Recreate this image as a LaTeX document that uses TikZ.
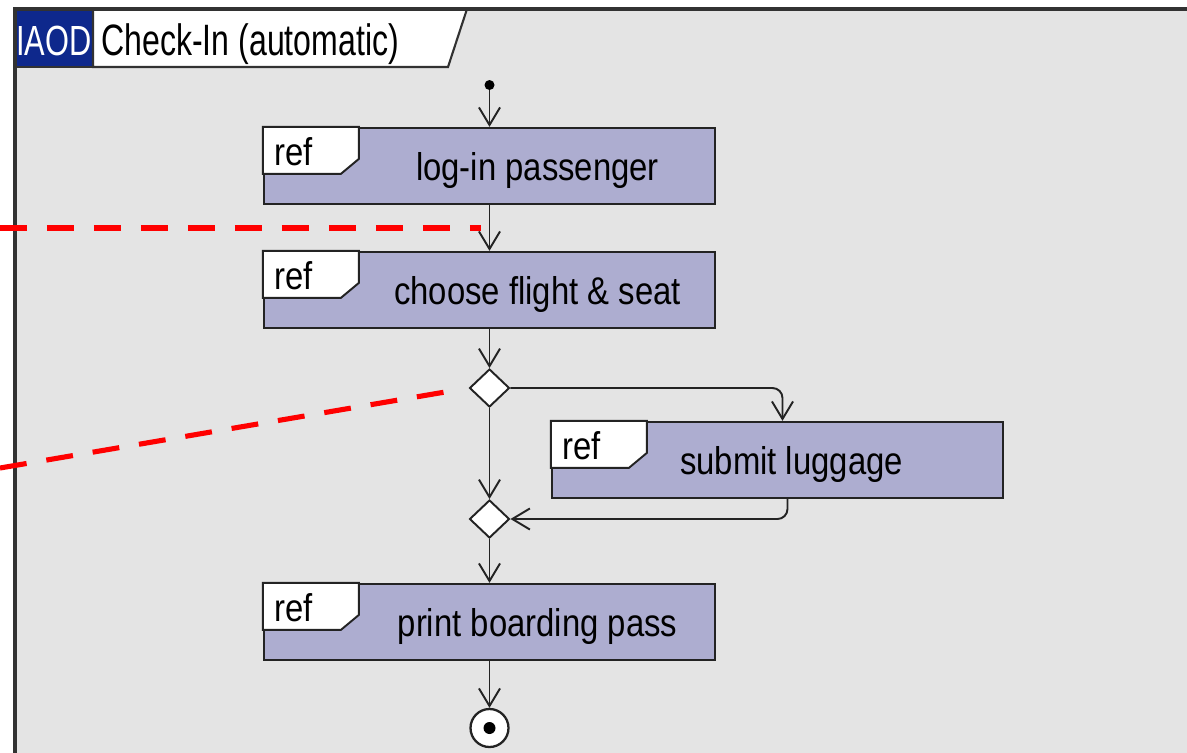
\documentclass[tikz,border=0pt]{standalone}
\usepackage{fontspec}
\setmainfont{Liberation Sans}
\newfontfamily\boxfont{Liberation Sans}[FakeStretch=0.85]
\newfontfamily\titlefont{Liberation Sans}[FakeStretch=0.73]
\usetikzlibrary{arrows.meta,shapes.geometric,calc}

\definecolor{framegray}{RGB}{228,228,228}
\definecolor{framedark}{RGB}{50,50,50}
\definecolor{refblue}{RGB}{173,173,208}
\definecolor{iaodblue}{RGB}{14,40,140}
\definecolor{linegray}{RGB}{35,35,35}

\tikzset{
  refbox/.style={draw=linegray, line width=1.3pt, fill=refblue, minimum width=9.02cm, minimum height=1.52cm, inner sep=0pt},
  boxtext/.style={anchor=base, inner sep=0pt, font=\boxfont\fontsize{22}{26}\selectfont},
  reflabel/.style={anchor=base west, inner sep=0pt, font=\boxfont\fontsize{22}{26}\selectfont},
  decision/.style={diamond, draw=linegray, line width=1.1pt, fill=white, minimum width=0.8cm, minimum height=0.76cm, inner sep=0pt},
  flow/.style={->, draw=linegray, line width=1.1pt},
  note/.style={draw=red, line width=2.9pt, dash pattern=on 0.54cm off 0.4cm},
  >={Straight Barb[length=10pt,width=12pt]}
}

% white tab with the word ref in the corner of a box
\newcommand{\reftab}[1]{%
  \draw[line width=1.1pt, draw=linegray, fill=white] (#1.north west) -- ++(96,0) -- ++(0,32) -- ++(-18,15) -- ++(-78,0) -- cycle;
  \node[reflabel] (#1-ref) at ($(#1.north west)+(11,39)$) {ref};
}

\begin{document}
\begin{tikzpicture}[x=0.02cm, y=-0.02cm]
    \useasboundingbox (0,0) rectangle (1187,752);
    \fill[white] (0,0) rectangle (1187,752);
    \clip (0,0) rectangle (1187,752);

    % Frame
    \draw[fill=framegray, draw=framedark, line width=1.8pt] (15,9) rectangle (1220,790);
    \fill[iaodblue] (15,9) rectangle (93,67);
    \draw[fill=white, draw=framedark, line width=1.2pt] (93,9) -- (467,9) -- (448,67) -- (93,67) -- cycle;
    \draw[draw=framedark, line width=1.2pt] (15,67) -- (93,67);
    \draw[draw=framedark, line width=1.8pt] (15,790) -- (15,9) -- (1220,9);
    \node[anchor=base, inner sep=0pt, text=white, font=\titlefont\fontsize{24}{28}\selectfont] (iaod) at (54,55) {IAOD};
    \node[anchor=base west, inner sep=0pt, font=\titlefont\fontsize{25}{30}\selectfont] (title) at (101,55) {Check-In (automatic)};

    % Nodes
    \node[circle, fill=black, minimum size=0.2cm, inner sep=0pt] (start) at (489.5,85) {};
    \node[refbox] (login) at (489.5,166) {};
    \node[refbox] (choose) at (489.5,290) {};
    \node[decision] (split) at (489.5,388) {};
    \node[refbox] (luggage) at (777.5,460) {};
    \node[decision] (merge) at (489.5,519) {};
    \node[refbox] (boarding) at (489.5,622) {};
    \node[circle, draw=linegray, line width=1.3pt, fill=white, minimum size=0.76cm, inner sep=0pt,
          path picture={\fill[black] (path picture bounding box.center) circle (0.12cm);}] (stop) at (489.5,728) {};

    \reftab{login}
    \reftab{choose}
    \reftab{luggage}
    \reftab{boarding}
    \node[boxtext] (login-txt) at ($(login.center)+(48,14)$) {log-in passenger};
    \node[boxtext] (choose-txt) at ($(choose.center)+(48,14)$) {choose flight \& seat};
    \node[boxtext] (luggage-txt) at ($(luggage.center)+(14,14)$) {submit luggage};
    \node[boxtext] (boarding-txt) at ($(boarding.center)+(48,14)$) {print boarding pass};

    % Flow
    \draw[flow] (start) -- (login.north);
    \draw[flow] (login.south) -- (choose.north);
    \draw[flow] (choose.south) -- (split.north);
    \draw[flow, rounded corners=5.7pt] (split.east) -| ($(luggage.north)+(5,0)$);
    \draw[flow] (split.south) -- (merge.north);
    \draw[flow, rounded corners=5.7pt] ($(luggage.south)+(10,0)$) |- (merge.east);
    \draw[flow] (merge.south) -- (boarding.north);
    \draw[flow] (boarding.south) -- (stop.north);

    % Red markers
    \coordinate (mark1) at (0,228);
    \coordinate (mark2) at (0,468);
    \draw[note, shorten >=0.18cm] (mark1) -- ($(login.south)!0.5!(choose.north)$);
    \draw[note, shorten >=0.24cm] (mark2) -- (split.west);
\end{tikzpicture}
\end{document}
